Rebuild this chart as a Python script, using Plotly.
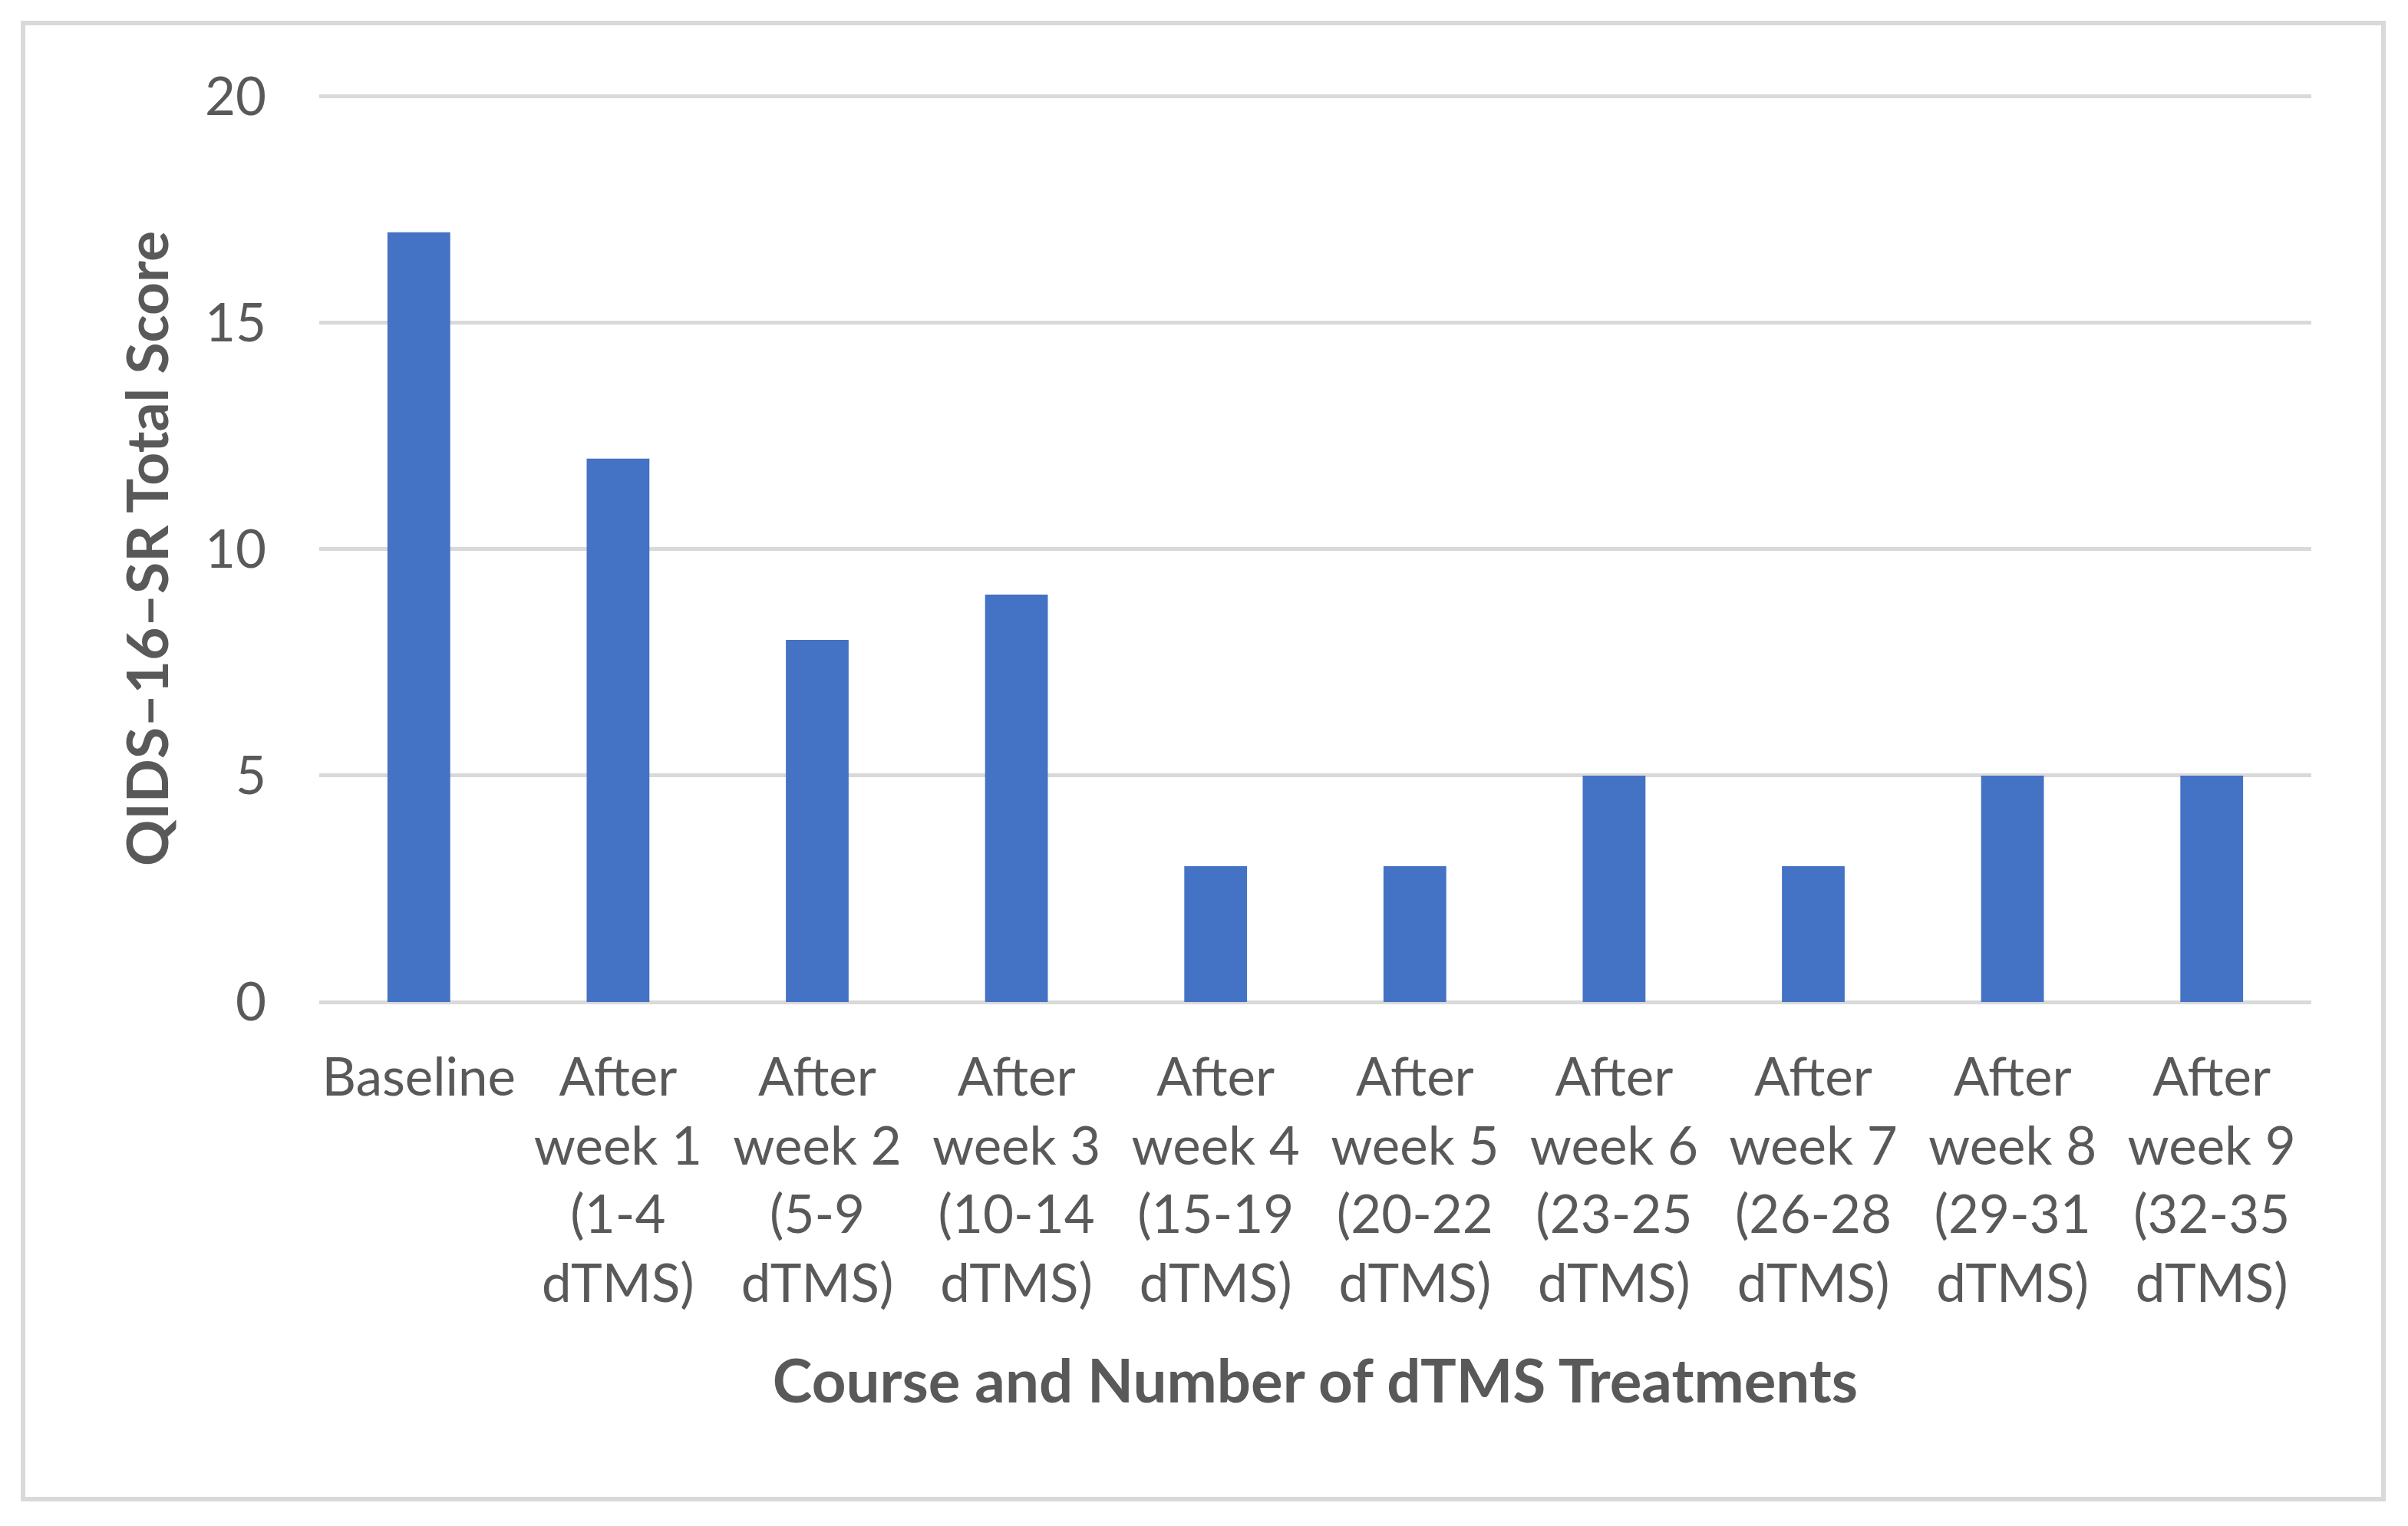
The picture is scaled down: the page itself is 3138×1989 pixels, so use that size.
import plotly.graph_objects as go

categories = [
    "Baseline",
    "After<br>week 1<br>(1-4<br>dTMS)",
    "After<br>week 2<br>(5-9<br>dTMS)",
    "After<br>week 3<br>(10-14<br>dTMS)",
    "After<br>week 4<br>(15-19<br>dTMS)",
    "After<br>week 5<br>(20-22<br>dTMS)",
    "After<br>week 6<br>(23-25<br>dTMS)",
    "After<br>week 7<br>(26-28<br>dTMS)",
    "After<br>week 8<br>(29-31<br>dTMS)",
    "After<br>week 9<br>(32-35<br>dTMS)",
]
scores = [17, 12, 8, 9, 3, 3, 5, 3, 5, 5]
y_ticks = [0, 5, 10, 15, 20]

OFF = 8  # default page body margin
W, H = 3138 - OFF, 1989 - OFF
L, R, T, B = 416 - OFF, 126, 124 - OFF, 683
pw, ph = W - L - R, H - T - B

def px_x(x):
    return (x - OFF - L) / pw

def px_y(y):
    return (H - B - (y - OFF)) / ph

text_color = "#595959"
font_family = "Lato, Carlito, Calibri, sans-serif"

fig = go.Figure(go.Bar(
    x=categories, y=scores,
    marker=dict(color="#4472C4", line=dict(width=0)),
))

fig.update_layout(
    width=W, height=H,
    margin=dict(l=L, r=R, t=T, b=B),
    paper_bgcolor="white", plot_bgcolor="white",
    bargap=0.685,
    showlegend=False,
    font=dict(family=font_family, size=69, color=text_color),
    xaxis=dict(
        showgrid=False, zeroline=False, showline=False,
        ticks="", ticklabelstandoff=52,
        tickfont=dict(size=69, color=text_color),
        title=dict(text="<b>Course and Number of dTMS Treatments</b>",
                   font=dict(size=78, color=text_color), standoff=62),
    ),
    yaxis=dict(
        range=[0, 20.03], tickvals=y_ticks,
        showgrid=True, gridcolor="#D9D9D9", gridwidth=5,
        zeroline=True, zerolinecolor="#D9D9D9", zerolinewidth=5,
        showline=False, ticks="", ticklabelstandoff=68,
        tickfont=dict(size=69, color=text_color),
        title=dict(text="<b>QIDS–16–SR Total Score</b>",
                   font=dict(size=75, color=text_color), standoff=22),
    ),
    shapes=[dict(
        type="rect", xref="paper", yref="paper",
        x0=px_x(30), x1=px_x(3106), y0=px_y(1954), y1=px_y(30),
        line=dict(color="#D9D9D9", width=6), fillcolor="rgba(0,0,0,0)",
        layer="below",
    )],
)

fig.write_html("out.html")
